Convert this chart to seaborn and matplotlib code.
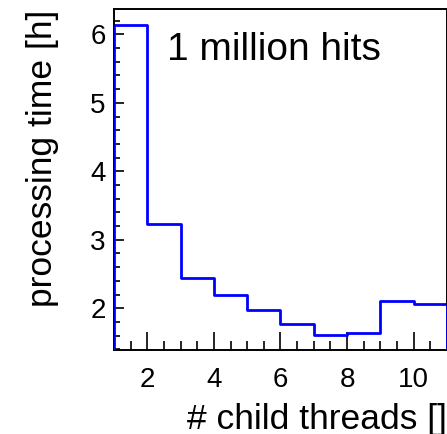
import numpy as np
import pandas as pd
import matplotlib
matplotlib.use("Agg")
import matplotlib.pyplot as plt
import seaborn as sns
from matplotlib.ticker import MultipleLocator

# Data
threads = [1, 2, 3, 4, 5, 6, 7, 8, 9, 10]
bin_edges = [1, 2, 3, 4, 5, 6, 7, 8, 9, 10, 11]
hours = [6.14, 3.23, 2.44, 2.19, 1.97, 1.77, 1.615, 1.635, 2.105, 2.065]
xticks = [2, 4, 6, 8, 10]
yticks = [2, 3, 4, 5, 6]
annotation = "1 million hits"
xlabel = "# child threads []"
ylabel = "processing time [h]"

sns.set_style("ticks")
plt.rcParams["font.family"] = ["Liberation Sans", "DejaVu Sans"]
plt.rcParams["text.color"] = "black"
plt.rcParams["axes.labelcolor"] = "black"
plt.rcParams["xtick.color"] = "black"
plt.rcParams["ytick.color"] = "black"

df = pd.DataFrame({"threads": [t + 0.5 for t in threads], "hours": hours})

fig = plt.figure(figsize=(4.47, 4.34), dpi=100)
ax = fig.add_axes([0.255, 0.1935, 0.745, 0.785])

sns.histplot(data=df, x="threads", weights="hours", bins=bin_edges,
             element="step", fill=False, color="#0000ff", linewidth=2.0, ax=ax)
ymin, ymax = 1.39, 6.365
ax.vlines([bin_edges[0], bin_edges[-1]], ymin, [hours[0], hours[-1]],
          color="#0000ff", linewidth=2.0, zorder=3)

ax.set_xlim(1, 11)
ax.set_ylim(ymin, ymax)
ax.set_xticks(xticks)
ax.set_yticks(yticks)
ax.set_xticklabels([str(t) for t in xticks])
ax.set_yticklabels([str(t) for t in yticks])
ax.xaxis.set_minor_locator(MultipleLocator(0.5))
ax.yaxis.set_minor_locator(MultipleLocator(0.2))

ax.tick_params(axis="x", which="major", direction="in", length=13, width=1.2,
               labelsize=20, pad=12)
ax.tick_params(axis="x", which="minor", direction="in", length=6.5, width=1.2)
ax.tick_params(axis="y", which="major", direction="in", length=7, width=1.2,
               labelsize=20, pad=6)
ax.tick_params(axis="y", which="minor", direction="in", length=4.3, width=1.2)

for s in ax.spines.values():
    s.set_linewidth(1.4)
    s.set_color("black")

ax.set_xlabel(xlabel, fontsize=25.5, loc="right")
ax.set_ylabel(ylabel, fontsize=25.5, loc="top")
ax.xaxis.set_label_coords(1.0, -0.155)
ax.yaxis.set_label_coords(-0.165, 1.0)

ax.text(0.159, 0.851, annotation, transform=ax.transAxes, fontsize=28,
        ha="left", va="baseline")

fig.savefig("out.png", dpi=100)
